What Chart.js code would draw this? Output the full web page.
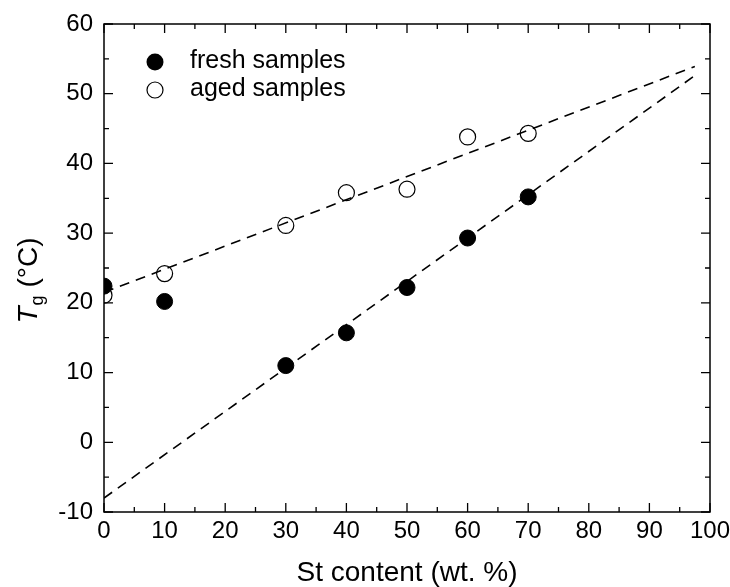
<!DOCTYPE html>
<html lang="en">
<head>
    <meta charset="UTF-8">
    <title>Tg vs St content</title>
    <script src="https://cdn.jsdelivr.net/npm/chart.js"></script>
    <style>
        html, body { margin: 0; padding: 0; background: #fff; }
        #wrap { width: 730px; height: 587px; }
    </style>
</head>
<body>
    <div id="wrap"><canvas id="tgChart" width="730" height="587"></canvas></div>

    <script>
        // data
        const stContent = [0, 10, 30, 40, 50, 60, 70];
        const freshTg = [22.4, 20.2, 11.0, 15.7, 22.2, 29.3, 35.2];
        const agedTg = [21.1, 24.2, 31.1, 35.8, 36.3, 43.8, 44.3];

        // dashed fit lines (end points)
        const fitX = [0, 97.5];
        const freshFit = [-8.0, 52.6];
        const agedFit = [21.5, 53.9];

        const xTicks = [0, 10, 20, 30, 40, 50, 60, 70, 80, 90, 100];
        const yTicks = [-10, 0, 10, 20, 30, 40, 50, 60];

        const FONT = '"Liberation Sans", Arial, sans-serif';

        function pts(xs, ys) {
            return xs.map((x, i) => ({ x: x, y: ys[i] }));
        }

        // frame, inward ticks, legend and axis titles
        const decor = {
            id: 'decor',
            afterDatasetsDraw(chart) {
                const ctx = chart.ctx;
                const a = chart.chartArea;
                const sx = chart.scales.x, sy = chart.scales.y;
                ctx.save();
                ctx.strokeStyle = '#000';
                ctx.lineWidth = 1.5;
                ctx.strokeRect(a.left, a.top, a.right - a.left, a.bottom - a.top);

                ctx.lineWidth = 1.3;
                ctx.beginPath();
                for (let v = 0; v <= 100; v += 5) {
                    const px = sx.getPixelForValue(v);
                    const len = v % 10 === 0 ? 9 : 5;
                    ctx.moveTo(px, a.bottom); ctx.lineTo(px, a.bottom - len);
                    ctx.moveTo(px, a.top); ctx.lineTo(px, a.top + len);
                }
                for (let v = -10; v <= 60; v += 5) {
                    const py = sy.getPixelForValue(v);
                    const len = v % 10 === 0 ? 9 : 5;
                    ctx.moveTo(a.left, py); ctx.lineTo(a.left + len, py);
                    ctx.moveTo(a.right, py); ctx.lineTo(a.right - len, py);
                }
                ctx.stroke();

                // legend
                const lx = a.left + 51;
                ctx.fillStyle = '#000';
                ctx.beginPath();
                ctx.arc(lx, a.top + 38, 8.5, 0, Math.PI * 2);
                ctx.fill();
                ctx.lineWidth = 1.2;
                ctx.beginPath();
                ctx.arc(lx, a.top + 66, 8, 0, Math.PI * 2);
                ctx.stroke();
                ctx.font = '25px ' + FONT;
                ctx.textBaseline = 'middle';
                ctx.textAlign = 'left';
                ctx.fillText('fresh samples', a.left + 86, a.top + 37);
                ctx.fillText('aged samples', a.left + 86, a.top + 65);

                // x title
                ctx.textAlign = 'center';
                ctx.textBaseline = 'alphabetic';
                ctx.font = '28px ' + FONT;
                ctx.fillText('St content (wt. %)', (a.left + a.right) / 2 + 0, 581);

                // y title: T_g (°C)
                ctx.translate(37, 281);
                ctx.rotate(-Math.PI / 2);
                const partT = 'italic 28px ' + FONT;
                const partG = '18px ' + FONT;
                const partR = '28px ' + FONT;
                ctx.font = partT; const wT = ctx.measureText('T').width;
                ctx.font = partG; const wG = ctx.measureText('g').width;
                ctx.font = partR; const wR = ctx.measureText(' (°C)').width;
                let x0 = -(wT + wG + wR) / 2;
                ctx.textAlign = 'left';
                ctx.font = partT; ctx.fillText('T', x0, 0); x0 += wT + 1;
                ctx.font = partG; ctx.fillText('g', x0, 6); x0 += wG;
                ctx.font = partR; ctx.fillText(' (°C)', x0, 0);
                ctx.restore();
            }
        };

        new Chart(document.getElementById('tgChart'), {
            type: 'scatter',
            data: {
                datasets: [
                    {
                        label: 'fresh fit',
                        data: pts(fitX, freshFit),
                        showLine: true,
                        borderColor: '#000',
                        borderWidth: 1.6,
                        borderDash: [10, 7],
                        pointRadius: 0,
                        fill: false
                    },
                    {
                        label: 'aged fit',
                        data: pts(fitX, agedFit),
                        showLine: true,
                        borderColor: '#000',
                        borderWidth: 1.6,
                        borderDash: [10, 7],
                        pointRadius: 0,
                        fill: false
                    },
                    {
                        label: 'fresh samples',
                        data: pts(stContent, freshTg),
                        backgroundColor: '#000',
                        borderColor: '#000',
                        pointRadius: 8,
                        borderWidth: 1
                    },
                    {
                        label: 'aged samples',
                        data: pts(stContent, agedTg),
                        backgroundColor: 'rgba(0,0,0,0)',
                        borderColor: '#000',
                        pointRadius: 8,
                        borderWidth: 1.2
                    }
                ]
            },
            options: {
                responsive: false,
                animation: false,
                events: [],
                layout: { padding: { left: 0, right: 20, top: 24, bottom: 0 } },
                plugins: {
                    legend: { display: false },
                    tooltip: { enabled: false }
                },
                scales: {
                    x: {
                        type: 'linear',
                        min: 0,
                        max: 100,
                        grid: { display: false, drawTicks: false },
                        border: { display: false },
                        afterBuildTicks: s => { s.ticks = xTicks.map(v => ({ value: v })); },
                        afterFit: s => { s.height = 75; s.paddingLeft = 0; s.paddingRight = 0; },
                        ticks: {
                            color: '#000',
                            padding: 5,
                            maxRotation: 0,
                            font: { family: FONT, size: 24 }
                        }
                    },
                    y: {
                        type: 'linear',
                        min: -10,
                        max: 60,
                        grid: { display: false, drawTicks: false },
                        border: { display: false },
                        afterBuildTicks: s => { s.ticks = yTicks.map(v => ({ value: v })); },
                        afterFit: s => { s.width = 104; s.paddingTop = 0; s.paddingBottom = 0; },
                        ticks: {
                            color: '#000',
                            padding: 11,
                            font: { family: FONT, size: 24 }
                        }
                    }
                }
            },
            plugins: [decor]
        });
    </script>
</body>
</html>
